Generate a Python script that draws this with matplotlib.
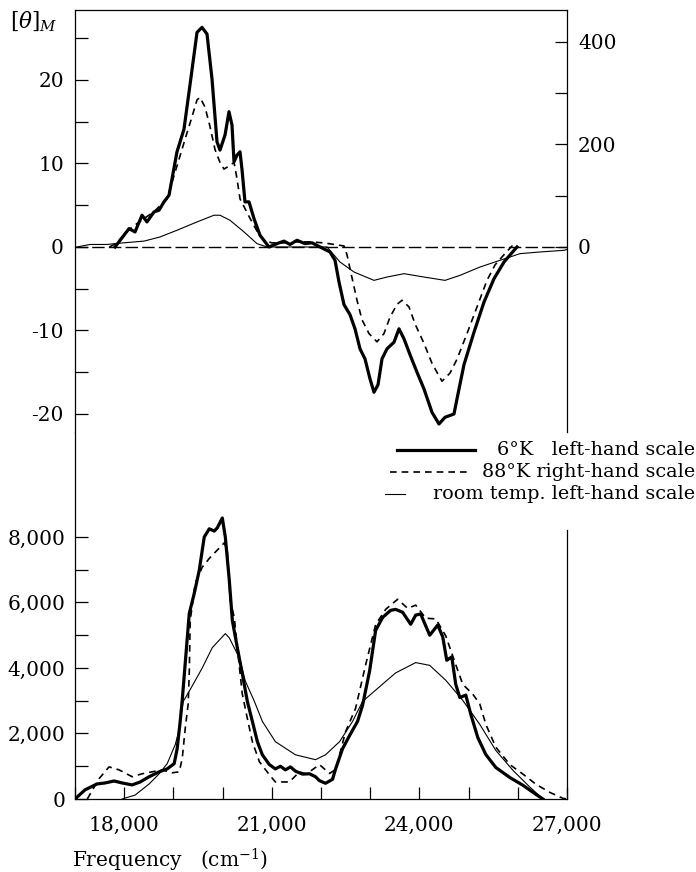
import matplotlib
matplotlib.use("Agg")
import matplotlib.pyplot as plt
from matplotlib.ticker import FixedLocator, MultipleLocator
from matplotlib.lines import Line2D

plt.rcParams['font.family'] = ['DejaVu Serif']
plt.rcParams['mathtext.fontset'] = 'dejavuserif'
plt.rcParams['axes.unicode_minus'] = False

# --- CD spectrum (top): left-hand scale for 6K and room temp, right-hand for 88K ---
f_6k_cd = [17813, 18098, 18220, 18362, 18463, 18606, 18707, 18809, 18911, 19073,
           19215, 19337, 19480, 19581, 19683, 19785, 19886, 19947, 20049, 20130,
           20191, 20232, 20293, 20354, 20394, 20455, 20537, 20638, 20760, 20943,
           21106, 21248, 21370, 21512, 21675, 21817, 21980, 22183, 22285, 22366,
           22467, 22589, 22691, 22793, 22894, 22996, 23077, 23159, 23240, 23341,
           23484, 23585, 23687, 23809, 23951, 24093, 24256, 24398, 24520, 24703,
           24764, 24906, 25110, 25313, 25516, 25720, 25923, 25984]
cd_6k = [0, 2.2, 1.8, 3.8, 3.0, 4.2, 4.4, 5.4, 6.2, 11.4,
         14.1, 19.4, 25.7, 26.3, 25.5, 20.1, 12.6, 11.6, 13.4, 16.2,
         14.6, 10.2, 11.0, 11.4, 9.3, 5.4, 5.4, 3.4, 1.4, 0.0,
         0.4, 0.7, 0.3, 0.8, 0.4, 0.5, 0.0, -0.6, -1.6, -4.2,
         -6.9, -8.1, -9.8, -12.2, -13.4, -15.8, -17.4, -16.5, -13.4, -12.2,
         -11.4, -9.8, -11.0, -12.9, -15.0, -17.0, -19.8, -21.2, -20.4, -20.0,
         -18.2, -14.1, -10.2, -6.6, -3.8, -1.8, -0.4, 0]

f_88k_cd = [17700, 17854, 18057, 18321, 18606, 18809, 18870, 19073, 19236, 19378,
            19480, 19541, 19642, 19744, 19846, 19947, 20028, 20130, 20232, 20293,
            20354, 20455, 20557, 20699, 20841, 21004, 21248, 21512, 21776, 22061,
            22325, 22467, 22528, 22630, 22732, 22833, 22976, 23138, 23280, 23402,
            23545, 23646, 23789, 23911, 24093, 24256, 24459, 24622, 24764, 24967,
            25171, 25374, 25537, 25720, 25882, 25984]
cd_88k = [0, 8, 31, 50, 69, 88, 94, 158, 210, 254,
          287, 292, 273, 235, 190, 165, 152, 158, 165, 133,
          94, 75, 56, 31, 13, 8, 8, 10, 10, 8,
          4, 2, -15, -60, -104, -142, -169, -185, -169, -137,
          -112, -104, -117, -150, -188, -227, -262, -246, -219, -169,
          -117, -65, -35, -15, 2, 0]

f_rt_cd = [17041, 17305, 17650, 17996, 18402, 18728, 19073, 19480, 19825, 19947,
           20150, 20435, 20699, 20902, 22122, 22386, 22671, 23077, 23341, 23687,
           24093, 24520, 24825, 25232, 25638, 26045, 26451, 26939, 27000]
cd_rt = [0, 0.3, 0.3, 0.5, 0.7, 1.2, 2.0, 3.0, 3.8, 3.8,
         3.2, 1.8, 0.4, 0, 0, -1.8, -3.0, -4.0, -3.6, -3.2,
         -3.6, -4.0, -3.4, -2.4, -1.6, -0.8, -0.6, -0.4, -0.3]

# --- absorption (bottom) ---
f_6k_abs = [17000, 17204, 17448, 17611, 17794, 17957, 18161, 18324, 18507, 18711,
            18874, 19016, 19077, 19138, 19179, 19322, 19424, 19525, 19627, 19729,
            19831, 19892, 19994, 20055, 20136, 20198, 20299, 20401, 20503, 20605,
            20707, 20808, 20951, 21073, 21175, 21277, 21379, 21481, 21623, 21766,
            21888, 21969, 22092, 22234, 22295, 22438, 22580, 22743, 22845, 22988,
            23110, 23253, 23415, 23517, 23660, 23823, 23925, 24026, 24210, 24373,
            24475, 24556, 24658, 24739, 24821, 24943, 25045, 25187, 25350, 25554,
            25839, 26104, 26369, 26511]
abs_6k = [0, 280, 460, 490, 550, 490, 430, 520, 680, 830,
          920, 1080, 1540, 2370, 3010, 5660, 6280, 6980, 8000, 8250,
          8180, 8280, 8580, 8000, 6680, 5450, 4620, 3820, 2980, 2370,
          1750, 1350, 1050, 920, 1000, 890, 980, 850, 760, 770,
          680, 560, 480, 600, 910, 1535, 1935, 2370, 2860, 3910,
          5145, 5545, 5760, 5790, 5700, 5335, 5615, 5650, 5000, 5313,
          4945, 4236, 4338, 3500, 3100, 3172, 2584, 1876, 1358, 961,
          656, 420, 140, 0]

f_88k_abs = [17250, 17489, 17692, 17896, 18161, 18364, 18568, 18772, 18976, 19118,
             19179, 19240, 19300, 19322, 19342, 19443, 19586, 19749, 19931, 20033,
             20094, 20156, 20238, 20299, 20401, 20503, 20605, 20747, 20951, 21073,
             21358, 21562, 21684, 21766, 21969, 22173, 22300, 22499, 22703, 22906,
             23110, 23314, 23558, 23762, 23925, 24128, 24332, 24536, 24739, 24882,
             25086, 25228, 25350, 25554, 25839, 26104, 26369, 26654, 26919, 27000]
abs_88k = [0, 620, 980, 890, 680, 770, 830, 890, 800, 830,
           1230, 2150, 2900, 3820, 5450, 6580, 7080, 7380, 7660, 7820,
           7600, 6060, 5540, 4620, 3200, 2460, 1750, 1140, 740, 520,
           520, 830, 770, 830, 1050, 780, 900, 2055, 2770, 4090,
           5325, 5790, 6100, 5820, 5920, 5520, 5500, 4980, 4100, 3500,
           3200, 2900, 2280, 1580, 1050, 760, 450, 200, 20, 0]

f_rt_abs = [17957, 18222, 18507, 18711, 18874, 19037, 19098, 19200, 19322, 19586,
            19790, 20055, 20136, 20340, 20462, 20646, 20808, 21073, 21481, 21888,
            22092, 22377, 22642, 22845, 23253, 23517, 23925, 24210, 24536, 24882,
            25228, 25554, 25900, 26246, 26511]
abs_rt = [0, 120, 460, 770, 1080, 1660, 2000, 2980, 3290, 4000,
          4620, 5050, 4920, 4310, 3600, 2980, 2370, 1750, 1350, 1200,
          1350, 1750, 2370, 2980, 3510, 3850, 4165, 4080, 3626, 3011,
          2276, 1481, 877, 362, 0]

x_ticks = [18000, 21000, 24000, 27000]
x_tick_labels = ['18,000', '21,000', '24,000', '27,000']
abs_ticks = [0, 2000, 4000, 6000, 8000]
abs_tick_labels = ['0', '2,000', '4,000', '6,000', '8,000']
cd_left_ticks = [-20, -10, 0, 10, 20]
cd_right_ticks = [0, 200, 400]

W, H = 696, 872
fig = plt.figure(figsize=(W / 100, H / 100), dpi=100)

def fx(px):
    return px / W

def fy(py):
    return 1 - py / H

left, right = fx(75), fx(567)
ax_top = fig.add_axes([left, fy(432), right - left, fy(10) - fy(432)])
ax_bot = fig.add_axes([left, fy(799), right - left, fy(432) - fy(799)])
ax_r = ax_top.twinx()

fs = 14.5
tick_kw = dict(direction='in', length=9, width=0.9, labelsize=fs)

# top panel
ax_top.plot(f_rt_cd, cd_rt, color='black', lw=0.8)
ax_top.plot(f_6k_cd, cd_6k, color='black', lw=2.3, solid_joinstyle='round')
ax_r.plot(f_88k_cd, cd_88k, color='black', lw=1.2, ls=(0, (4, 3)))
ax_top.axhline(0, color='black', lw=1.0, ls=(0, (9, 3)))
ax_top.set_xlim(17000, 27000)
ax_top.set_ylim(-22.16, 28.38)
ax_r.set_ylim(-361, 462.4)
ax_top.spines['bottom'].set_visible(False)
ax_top.spines['right'].set_visible(False)
ax_r.spines['bottom'].set_visible(False)
ax_r.spines['left'].set_visible(False)
ax_r.spines['top'].set_visible(False)
for sp in ['left', 'top']:
    ax_top.spines[sp].set_linewidth(0.9)
ax_r.spines['right'].set_linewidth(0.9)
ax_top.set_xticks([])
ax_top.yaxis.set_major_locator(FixedLocator(cd_left_ticks))
ax_top.yaxis.set_minor_locator(FixedLocator([-15, -5, 5, 15, 25]))
ax_top.tick_params(axis='y', which='both', pad=8, **tick_kw)
ax_r.yaxis.set_major_locator(FixedLocator(cd_right_ticks))
ax_r.yaxis.set_minor_locator(FixedLocator([100, 300]))
ax_r.tick_params(axis='y', which='both', pad=8, **tick_kw)

# bottom panel
ax_bot.plot(f_rt_abs, abs_rt, color='black', lw=0.8)
ax_bot.plot(f_88k_abs, abs_88k, color='black', lw=1.2, ls=(0, (4, 3)))
ax_bot.plot(f_6k_abs, abs_6k, color='black', lw=2.3, solid_joinstyle='round')
ax_bot.set_xlim(17000, 27000)
ax_bot.set_ylim(0, 11206)
ax_bot.spines['top'].set_visible(False)
ax_bot.spines['right'].set_bounds(0, 8200)
for sp in ['left', 'bottom', 'right']:
    ax_bot.spines[sp].set_linewidth(0.9)
ax_bot.set_xticks(x_ticks)
ax_bot.set_xticklabels(x_tick_labels)
ax_bot.xaxis.set_minor_locator(MultipleLocator(1000))
ax_bot.set_yticks(abs_ticks)
ax_bot.set_yticklabels(abs_tick_labels)
ax_bot.yaxis.set_minor_locator(FixedLocator([1000, 3000, 5000, 7000]))
ax_bot.tick_params(axis='x', which='both', pad=12, **tick_kw)
ax_bot.tick_params(axis='y', which='both', pad=7, **tick_kw)

# axis captions
fig.text(fx(10), fy(22), r'$[\theta]_M$', fontsize=15.5, ha='left', va='center')
fig.text(fx(72), fy(860), r'Frequency   (cm$^{-1}$)', fontsize=fs, ha='left', va='center')

# legend drawn by hand
rows = [(450, 'solid', 2.3, 397, 475, '6°K   left-hand scale'),
        (472, (0, (4, 3)), 1.2, 390, 470, '88°K right-hand scale'),
        (494, 'solid', 0.8, 385, 405, 'room temp. left-hand scale')]
for py, ls, lw, x0, x1, label in rows:
    fig.add_artist(Line2D([fx(x0), fx(x1)], [fy(py), fy(py)], color='black', lw=lw, ls=ls))
    fig.text(fx(695), fy(py), label, fontsize=13.8, ha='right', va='center')

fig.savefig('out.png', dpi=100)
